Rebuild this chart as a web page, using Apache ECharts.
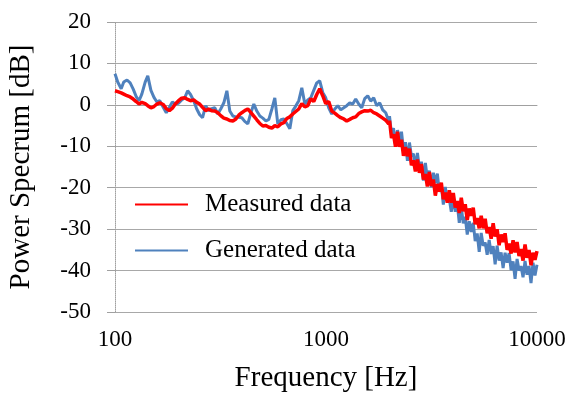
<!DOCTYPE html>
<html>
<head>
<meta charset="utf-8">
<title>Power Spectrum</title>
<script src="https://cdn.jsdelivr.net/npm/echarts@6/dist/echarts.min.js"></script>
<style>
  html, body { margin: 0; padding: 0; background: #fff; }
  #chart { width: 570px; height: 394px; }
</style>
</head>
<body>
<div id="chart"></div>
<script>
// frequencies [Hz], read along the log axis
const freqs = [
  100, 103, 107, 110, 114, 118, 122, 126, 130, 134, 139, 143, 148, 153, 158, 163, 169, 175, 181, 187,
  193, 200, 207, 214, 221, 228, 236, 244, 252, 260, 269, 278, 287, 297, 307, 317, 328, 339, 350, 362,
  374, 386, 399, 412, 426, 440, 455, 470, 486, 502, 519, 536, 554, 572, 591, 611, 631, 652, 674, 696,
  719, 743, 768, 794, 820, 847, 875, 904, 934, 965, 997, 1030, 1065, 1100, 1137, 1175, 1214, 1254, 1296, 1339,
  1383, 1429, 1477, 1526, 1577, 1629, 1683, 1739, 1797, 1857, 1919, 1983,
  2000, 2044, 2089, 2135, 2182, 2230, 2279, 2329, 2380, 2432, 2486, 2540, 2596, 2653, 2712, 2771, 2832, 2895, 2958, 3023,
  3090, 3158, 3227, 3298, 3371, 3445, 3520, 3598, 3677, 3758, 3840, 3925, 4011, 4099, 4189, 4282, 4376, 4472, 4570, 4671,
  4773, 4878, 4986, 5095, 5207, 5322, 5439, 5558, 5680, 5805, 5933, 6063, 6197, 6333, 6472, 6614, 6760, 6908, 7060, 7216,
  7374, 7536, 7702, 7872, 8045, 8221, 8402, 8587, 8776, 8969, 9166, 9368, 9574, 9784, 10000
];

// Measured data [dB]
const measured = [
  3.4, 3.2, 2.9, 2.6, 2.2, 1.9, 1.4, 0.8, 0.2, 0.6, 0.3, -0.2, -0.7, -0.4, 0.2, 0.5, 0.1, -0.9, -1.4, -0.8,
  0.2, 1.0, 1.6, 1.7, 1.3, 1.0, 1.2, 0.6, 0.2, -0.6, -1.4, -1.0, -1.4, -1.5, -1.9, -2.6, -3.2, -3.4, -3.8, -3.9,
  -3.4, -2.5, -1.9, -1.4, -1.0, -1.8, -2.7, -3.6, -4.5, -5.1, -5.0, -5.4, -5.6, -5.0, -5.3, -4.6, -4.3, -3.3, -2.9, -2.2,
  -1.6, -1.0, 0.3, -0.5, -0.2, 1.5, 0.8, 2.5, 3.9, 2.2, 0.3, 0.8, -1.5, -2.0, -2.6, -3.1, -3.4, -3.9, -3.5, -3.1,
  -2.9, -2.1, -1.7, -1.4, -1.5, -1.3, -1.9, -2.2, -2.7, -3.2, -3.7, -4.6,
  -3.8, -8.0, -7.1, -10.1, -6.5, -10.1, -8.4, -12.3, -10.2, -12.4, -10.6, -14.6, -13.4, -16.1, -13.2, -16.4, -14.3, -18.0, -16.7, -19.7,
  -16.2, -19.6, -18.0, -21.9, -19.1, -20.9, -18.8, -22.8, -21.2, -23.6, -20.6, -23.6, -21.3, -24.8, -23.2, -26.1, -22.4, -25.7, -24.0, -27.8,
  -25.0, -26.8, -24.8, -28.8, -27.3, -29.8, -26.8, -29.8, -27.5, -31.0, -29.5, -32.3, -28.6, -31.8, -30.0, -33.9, -31.3, -33.1, -31.0, -35.0,
  -33.5, -35.9, -32.7, -35.6, -33.1, -36.5, -34.8, -37.6, -33.7, -36.9, -35.0, -38.7, -35.7, -37.4, -35.3
];

// Generated data [dB]
const generated = [
  7.5, 5.5, 3.9, 5.5, 6.0, 5.3, 3.8, 2.0, 1.0, 2.6, 5.5, 7.0, 3.5, 1.8, 0.7, 1.0, -0.5, -1.9, -0.6, 0.7,
  0.2, 0.4, 1.2, 1.7, 3.4, 2.5, 1.0, -1.0, -2.4, -3.1, -0.2, -1.4, -0.9, -0.7, -2.2, -1.0, 0.5, 3.4, -1.5, -2.7,
  -2.9, -3.0, -3.1, -4.0, -4.6, -2.0, 0.2, -1.5, -2.7, -3.2, -3.9, -3.5, -1.0, 1.7, -4.6, -3.6, -3.4, -4.5, -5.8, -1.4,
  -0.3, 1.0, 4.1, 0.2, 1.2, 1.7, 3.5, 5.3, 5.8, 3.0, 1.7, -0.7, -2.2, -1.0, -0.2, -1.2, -0.7, -0.2, 0.5, 0.2,
  1.4, 0.2, -0.7, 1.5, 2.2, 0.9, 1.7, -0.2, 0.5, -1.2, -1.9, -3.9,
  -2.7, -7.0, -5.6, -9.6, -6.1, -8.7, -6.5, -10.9, -9.0, -13.5, -9.1, -12.4, -11.8, -15.0, -11.6, -15.4, -13.7, -18.3, -14.0, -17.8,
  -15.9, -19.9, -16.4, -18.9, -16.6, -21.0, -19.3, -24.1, -19.8, -23.2, -22.7, -25.8, -22.2, -25.8, -23.9, -28.5, -24.5, -28.6, -27.0, -31.3,
  -28.1, -30.7, -28.5, -32.9, -31.0, -35.5, -30.9, -34.0, -33.2, -36.2, -32.6, -36.0, -34.1, -38.5, -34.0, -37.6, -35.6, -39.4, -35.7, -38.1,
  -35.8, -39.9, -37.8, -42.0, -37.2, -40.0, -38.9, -41.6, -37.7, -41.0, -38.9, -43.0, -38.1, -41.2, -38.6
];

const seriesNames = ['Measured data', 'Generated data'];
const yTicks = { min: -50, max: 20, interval: 10 };

const font = '"Liberation Serif", "Times New Roman", serif';
const chart = echarts.init(document.getElementById('chart'));

const option = {
  animation: false,
  backgroundColor: '#fff',
  // keep the plot box fixed, big axis names must not shrink it
  grid: { left: 115, right: 33, top: 22, bottom: 82, containLabel: false, outerBoundsMode: 'none' },
  legend: {
    orient: 'vertical',
    left: 135,
    top: 192,
    padding: 0,
    itemWidth: 53,
    itemHeight: 2,
    itemGap: 21,
    icon: 'rect',
    data: seriesNames,
    textStyle: {
      fontFamily: font,
      fontSize: 25,
      lineHeight: 25,
      color: '#000',
      padding: [0, 0, 0, 12]
    }
  },
  xAxis: {
    type: 'log',
    logBase: 10,
    min: 100,
    max: 10000,
    name: 'Frequency [Hz]',
    nameLocation: 'middle',
    nameGap: 52,
    nameTextStyle: { fontFamily: font, fontSize: 29, color: '#000' },
    axisLine: { show: true, lineStyle: { color: '#a0a0a0', width: 1 } },
    axisTick: { show: false },
    minorTick: { show: false },
    splitLine: { show: false },
    axisLabel: {
      fontFamily: font, fontSize: 23, color: '#000', margin: 16,
      formatter: (v) => String(Math.round(v))
    }
  },
  yAxis: {
    type: 'value',
    min: yTicks.min,
    max: yTicks.max,
    interval: yTicks.interval,
    name: 'Power Specrum [dB]',
    nameLocation: 'middle',
    nameGap: 79,
    nameTextStyle: { fontFamily: font, fontSize: 29, color: '#000' },
    axisLine: { show: true, lineStyle: { color: '#a0a0a0', type: 'dotted' } },
    axisTick: { show: true, inside: false, length: 8, lineStyle: { color: '#a0a0a0' } },
    splitLine: { show: true, lineStyle: { color: '#a8a8a8', width: 1 } },
    axisLabel: { fontFamily: font, fontSize: 23, color: '#000', margin: 24 }
  },
  series: [
    {
      name: seriesNames[1],
      type: 'line',
      showSymbol: false,
      z: 2,
      color: '#4f81bd',
      lineStyle: { width: 3, color: '#4f81bd' },
      data: freqs.map((f, i) => [f, generated[i]])
    },
    {
      name: seriesNames[0],
      type: 'line',
      showSymbol: false,
      z: 3,
      color: '#ff0000',
      lineStyle: { width: 3.5, color: '#ff0000' },
      data: freqs.map((f, i) => [f, measured[i]])
    }
  ]
};

chart.setOption(option);
</script>
</body>
</html>
